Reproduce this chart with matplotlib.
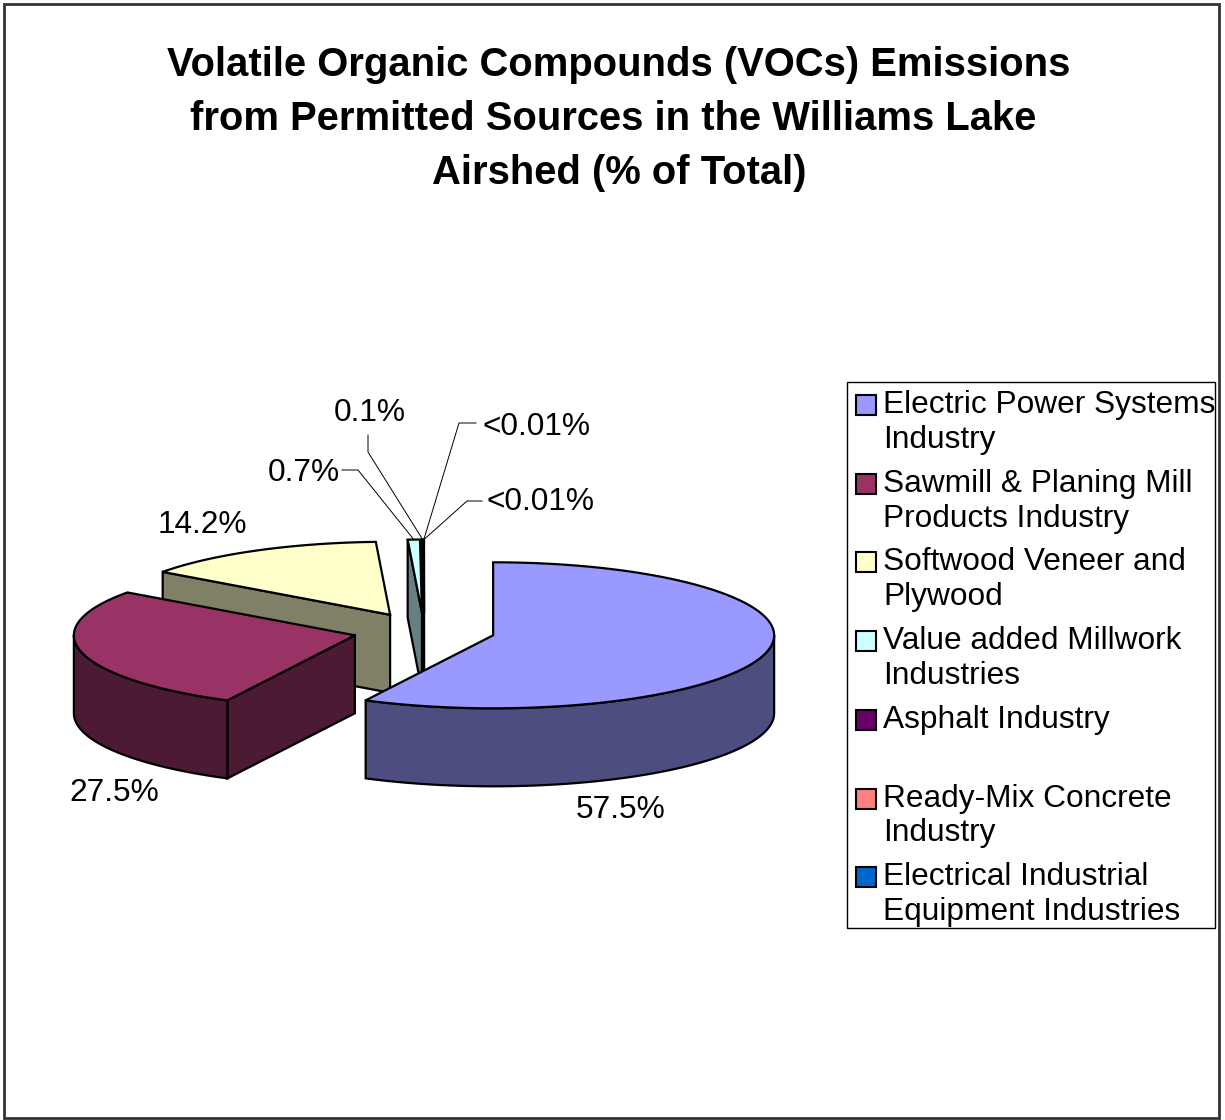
import textwrap
import numpy as np
import matplotlib.pyplot as plt
from matplotlib.patches import Polygon, Rectangle
from matplotlib.colors import to_rgb

plt.rcParams['font.family'] = ['Liberation Sans', 'DejaVu Sans']

# data
categories = ["Electric Power Systems Industry",
              "Sawmill & Planing Mill Products Industry",
              "Softwood Veneer and Plywood",
              "Value added Millwork Industries",
              "Asphalt Industry",
              "Ready-Mix Concrete Industry",
              "Electrical Industrial Equipment Industries"]
shares = [57.5, 27.5, 14.2, 0.7, 0.1, 0.005, 0.005]
share_labels = ["57.5%", "27.5%", "14.2%", "0.7%", "0.1%", "<0.01%", "<0.01%"]
colors = ["#9999FF", "#993366", "#FFFFCC", "#CCFFFF", "#660066", "#FF8080", "#0066CC"]

title = ("Volatile Organic Compounds (VOCs) Emissions\n"
         "from Permitted Sources in the Williams Lake \n"
         "Airshed (% of Total)")

# layout, pixel units, y pointing down
W, H = 1225, 1120
cx, cy = 424, 631
rx, ry = 281, 73
depth = 78
explode = 0.253
label_xy = [(621, 810), (114, 793), (202, 525), (304, 473),
            (370, 413), (536, 427), (541, 502)]
leader_elbows = {3: [(342, 470), (358, 470)],
                 4: [(368, 435), (368, 452)],
                 5: [(476, 423), (459, 423)],
                 6: [(482, 501), (467, 501)]}
fs = 22.8

fig = plt.figure(figsize=(W / 100, H / 100), dpi=100)
ax = fig.add_axes([0, 0, 1, 1])
ax.set_xlim(0, W)
ax.set_ylim(H, 0)
ax.axis('off')


def arc(x0, y0, a, b, dz=0):
    t = np.linspace(a, b, max(2, int(abs(b - a) * 80)))
    return np.column_stack([x0 + rx * np.cos(t), y0 - ry * np.sin(t) + dz])


def radial(x0, y0, t):
    x1, y1 = x0 + rx * np.cos(t), y0 - ry * np.sin(t)
    return [(x0, y0), (x1, y1), (x1, y1 + depth), (x0, y0 + depth)]


frac = np.array(shares) / sum(shares)
edges = np.pi / 2 - 2 * np.pi * np.concatenate([[0], np.cumsum(frac)])

slices = []
for i in range(len(shares)):
    hi, lo = edges[i], edges[i + 1]
    mid = (hi + lo) / 2
    ox = cx + explode * rx * np.cos(mid)
    oy = cy - explode * ry * np.sin(mid)
    slices.append((oy, i, lo, hi, mid, ox))

lw = 1.6
z = 1
anchors = {}
for oy, i, lo, hi, mid, ox in sorted(slices):
    top = np.array(to_rgb(colors[i]))
    side = top * 0.5
    anchors[i] = (ox + rx * np.cos(mid), oy - ry * np.sin(mid))
    # radial faces that face the viewer
    if np.cos(hi) < -1e-9:
        ax.add_patch(Polygon(radial(ox, oy, hi), closed=True, fc=side,
                             ec='black', lw=lw, zorder=z))
        z += 1
    if np.cos(lo) > 1e-9:
        ax.add_patch(Polygon(radial(ox, oy, lo), closed=True, fc=side,
                             ec='black', lw=lw, zorder=z))
        z += 1
    # outer wall on the front half
    for k in range(-2, 2):
        a = max(lo, np.pi + 2 * np.pi * k)
        b = min(hi, 2 * np.pi + 2 * np.pi * k)
        if b > a:
            wall = np.vstack([arc(ox, oy, a, b), arc(ox, oy, b, a, depth)])
            ax.add_patch(Polygon(wall, closed=True, fc=side, ec='black',
                                 lw=lw, zorder=z))
            z += 1
    face = np.vstack([[(ox, oy)], arc(ox, oy, lo, hi)])
    ax.add_patch(Polygon(face, closed=True, fc=top, ec='black', lw=lw,
                         joinstyle='miter', zorder=z))
    z += 1

# data labels
for i, lab in enumerate(share_labels):
    x, y = label_xy[i]
    ax.text(x, y, lab, ha='center', va='center', fontsize=fs, zorder=z + 2)
    if i in leader_elbows:
        pts = leader_elbows[i] + [anchors[i]]
        xs, ys = zip(*pts)
        ax.plot(xs, ys, color='black', lw=0.7, zorder=z + 1)

# title
ax.text(619, 119, title, ha='center', va='center', fontsize=28.8,
        fontweight='bold', linespacing=1.52, multialignment='center')

# legend
ax.add_patch(Rectangle((847, 382), 368, 546, fill=False, ec='black',
                       lw=1.0, zorder=z))
for i, name in enumerate(categories):
    y0 = 405 + i * 78.7
    ax.add_patch(Rectangle((856, y0 - 10), 20, 20, fc=colors[i], ec='black',
                           lw=1.5, zorder=z))
    for j, line in enumerate(textwrap.fill(name, 22).split("\n")):
        ax.text(883, y0 + j * 35, line, ha='left', va='center',
                fontsize=fs, zorder=z)

# chart border
ax.add_patch(Rectangle((4, 4), 1215, 1114, fill=False, ec='#333333',
                       lw=2, zorder=z))

fig.savefig("out.png", dpi=100)
